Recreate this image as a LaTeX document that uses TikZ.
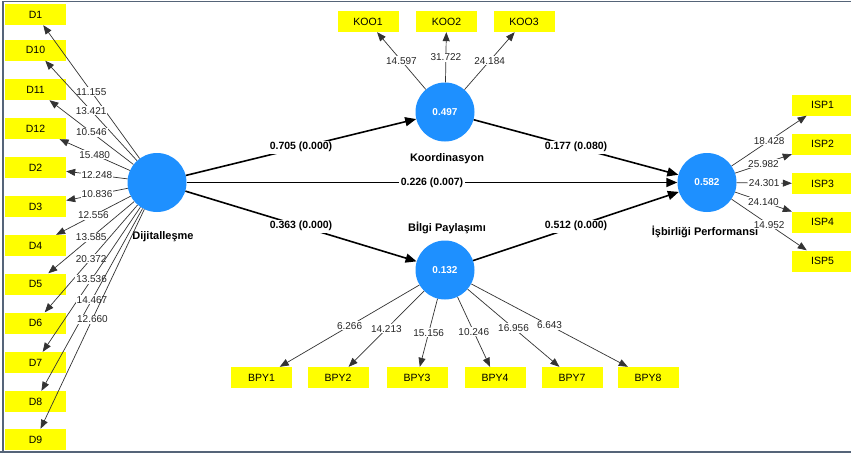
\documentclass[tikz,border=0pt]{standalone}
\usepackage{fontspec}
\setmainfont{Liberation Sans}
\usetikzlibrary{arrows.meta}
\definecolor{lvblue}{RGB}{30,144,255}
\definecolor{indyel}{RGB}{255,255,0}
\definecolor{framec}{RGB}{85,100,120}
\begin{document}
\begin{tikzpicture}[x=1pt,y=-1pt,
 ind/.style={fill=indyel, minimum width=61pt, minimum height=21pt, inner sep=0pt, font=\fontsize{10.5}{12}\selectfont},
 lv/.style={circle, fill=lvblue, minimum size=59pt, inner sep=0pt, text=white, font=\bfseries\fontsize{10}{12}\selectfont},
 lvname/.style={font=\bfseries\fontsize{11}{13}\selectfont},
 mline/.style={draw=black!80, line width=0.7pt, -{Triangle[length=9pt,width=7pt]}},
 sline/.style={draw=black, line width=1.6pt, -{Triangle[length=11pt,width=9pt]}},
 mlab/.style={fill=white, inner sep=1pt, text=black!85, font=\fontsize{10}{12}\selectfont},
 slab/.style={fill=white, inner sep=1.5pt, font=\bfseries\fontsize{10.5}{12}\selectfont}]
\useasboundingbox (0,0) rectangle (851,453);
\fill[white] (0,0) rectangle (851,453);
\draw[framec, line width=1.2pt] (3,453) -- (3,1.5) -- (851,1.5);
\draw[framec, line width=2pt] (0,452) -- (851,452);

% latent variables
\node[lv] (dij) at (157,182.5) {};
\node[lv] (koo) at (445,112) {0.497};
\node[lv] (bpy) at (445,270) {0.132};
\node[lv] (isp) at (707,182.5) {0.582};
\node[lvname] (ldij) at (163,237) {Dijitalleşme};
\node[lvname] (lkoo) at (447,159) {Koordinasyon};
\node[lvname] (lbpy) at (447,228) {Bİlgi Paylaşımı};
\node[lvname] (lisp) at (705,232) {İşbirliği Performansı};

% indicators of Dijitalleşme
\node[ind] (d1)  at (35.5,14.5)  {D1};
\node[ind] (d10) at (35.5,50)    {D10};
\node[ind] (d11) at (35.5,89.5)  {D11};
\node[ind] (d12) at (35.5,128.5) {D12};
\node[ind] (d2)  at (35.5,167.5) {D2};
\node[ind] (d3)  at (35.5,206.5) {D3};
\node[ind] (d4)  at (35.5,245.5) {D4};
\node[ind] (d5)  at (35.5,284)   {D5};
\node[ind] (d6)  at (35.5,323)   {D6};
\node[ind] (d7)  at (35.5,362.5) {D7};
\node[ind] (d8)  at (35.5,401.5) {D8};
\node[ind] (d9)  at (35.5,439.5) {D9};

% indicators of Koordinasyon
\node[ind] (k1) at (368,21.5)   {KOO1};
\node[ind] (k2) at (446.5,21.5) {KOO2};
\node[ind] (k3) at (524,21.5)   {KOO3};

% indicators of Bilgi Paylasimi
\node[ind] (b1) at (261.5,377.5) {BPY1};
\node[ind] (b2) at (338,377.5)   {BPY2};
\node[ind] (b3) at (417,377.5)   {BPY3};
\node[ind] (b4) at (495,377.5)   {BPY4};
\node[ind] (b7) at (572,377.5)   {BPY7};
\node[ind] (b8) at (648,377.5)   {BPY8};

% indicators of Isbirligi Performansi
\node[ind] (i1) at (822.5,105)   {ISP1};
\node[ind] (i2) at (822.5,144)   {ISP2};
\node[ind] (i3) at (822.5,183.5) {ISP3};
\node[ind] (i4) at (822.5,222)   {ISP4};
\node[ind] (i5) at (822.5,261)   {ISP5};

% outer loadings
\draw[mline] (dij) -- node[mlab] {11.155} (d1);
\draw[mline] (dij) -- node[mlab] {13.421} (d10);
\draw[mline] (dij) -- node[mlab] {10.546} (d11);
\draw[mline] (dij) -- node[mlab] {15.480} (d12);
\draw[mline] (dij) -- node[mlab] {12.248} (d2);
\draw[mline] (dij) -- node[mlab] {10.836} (d3);
\draw[mline] (dij) -- node[mlab] {12.556} (d4);
\draw[mline] (dij) -- node[mlab] {13.585} (d5);
\draw[mline] (dij) -- node[mlab] {20.372} (d6);
\draw[mline] (dij) -- node[mlab] {13.536} (d7);
\draw[mline] (dij) -- node[mlab] {14.467} (d8);
\draw[mline] (dij) -- node[mlab] {12.660} (d9);

\draw[mline] (koo) -- node[mlab] {14.597} (k1);
\draw[mline] (koo) -- node[mlab] {31.722} (k2);
\draw[mline] (koo) -- node[mlab] {24.184} (k3);

\draw[mline] (bpy) -- node[mlab] {6.266} (b1);
\draw[mline] (bpy) -- node[mlab] {14.213} (b2);
\draw[mline] (bpy) -- node[mlab] {15.156} (b3);
\draw[mline] (bpy) -- node[mlab] {10.246} (b4);
\draw[mline] (bpy) -- node[mlab] {16.956} (b7);
\draw[mline] (bpy) -- node[mlab] {6.643} (b8);

\draw[mline] (isp) -- node[mlab] {18.428} (i1);
\draw[mline] (isp) -- node[mlab] {25.982} (i2);
\draw[mline] (isp) -- node[mlab] {24.301} (i3);
\draw[mline] (isp) -- node[mlab] {24.140} (i4);
\draw[mline] (isp) -- node[mlab] {14.952} (i5);

% structural paths
\draw[sline] (dij) -- node[slab] {0.705 (0.000)} (koo);
\draw[sline] (koo) -- node[slab] {0.177 (0.080)} (isp);
\draw[sline] (dij) -- node[slab] {0.226 (0.007)} (isp);
\draw[sline] (dij) -- node[slab] {0.363 (0.000)} (bpy);
\draw[sline] (bpy) -- node[slab] {0.512 (0.000)} (isp);
\end{tikzpicture}
\end{document}
